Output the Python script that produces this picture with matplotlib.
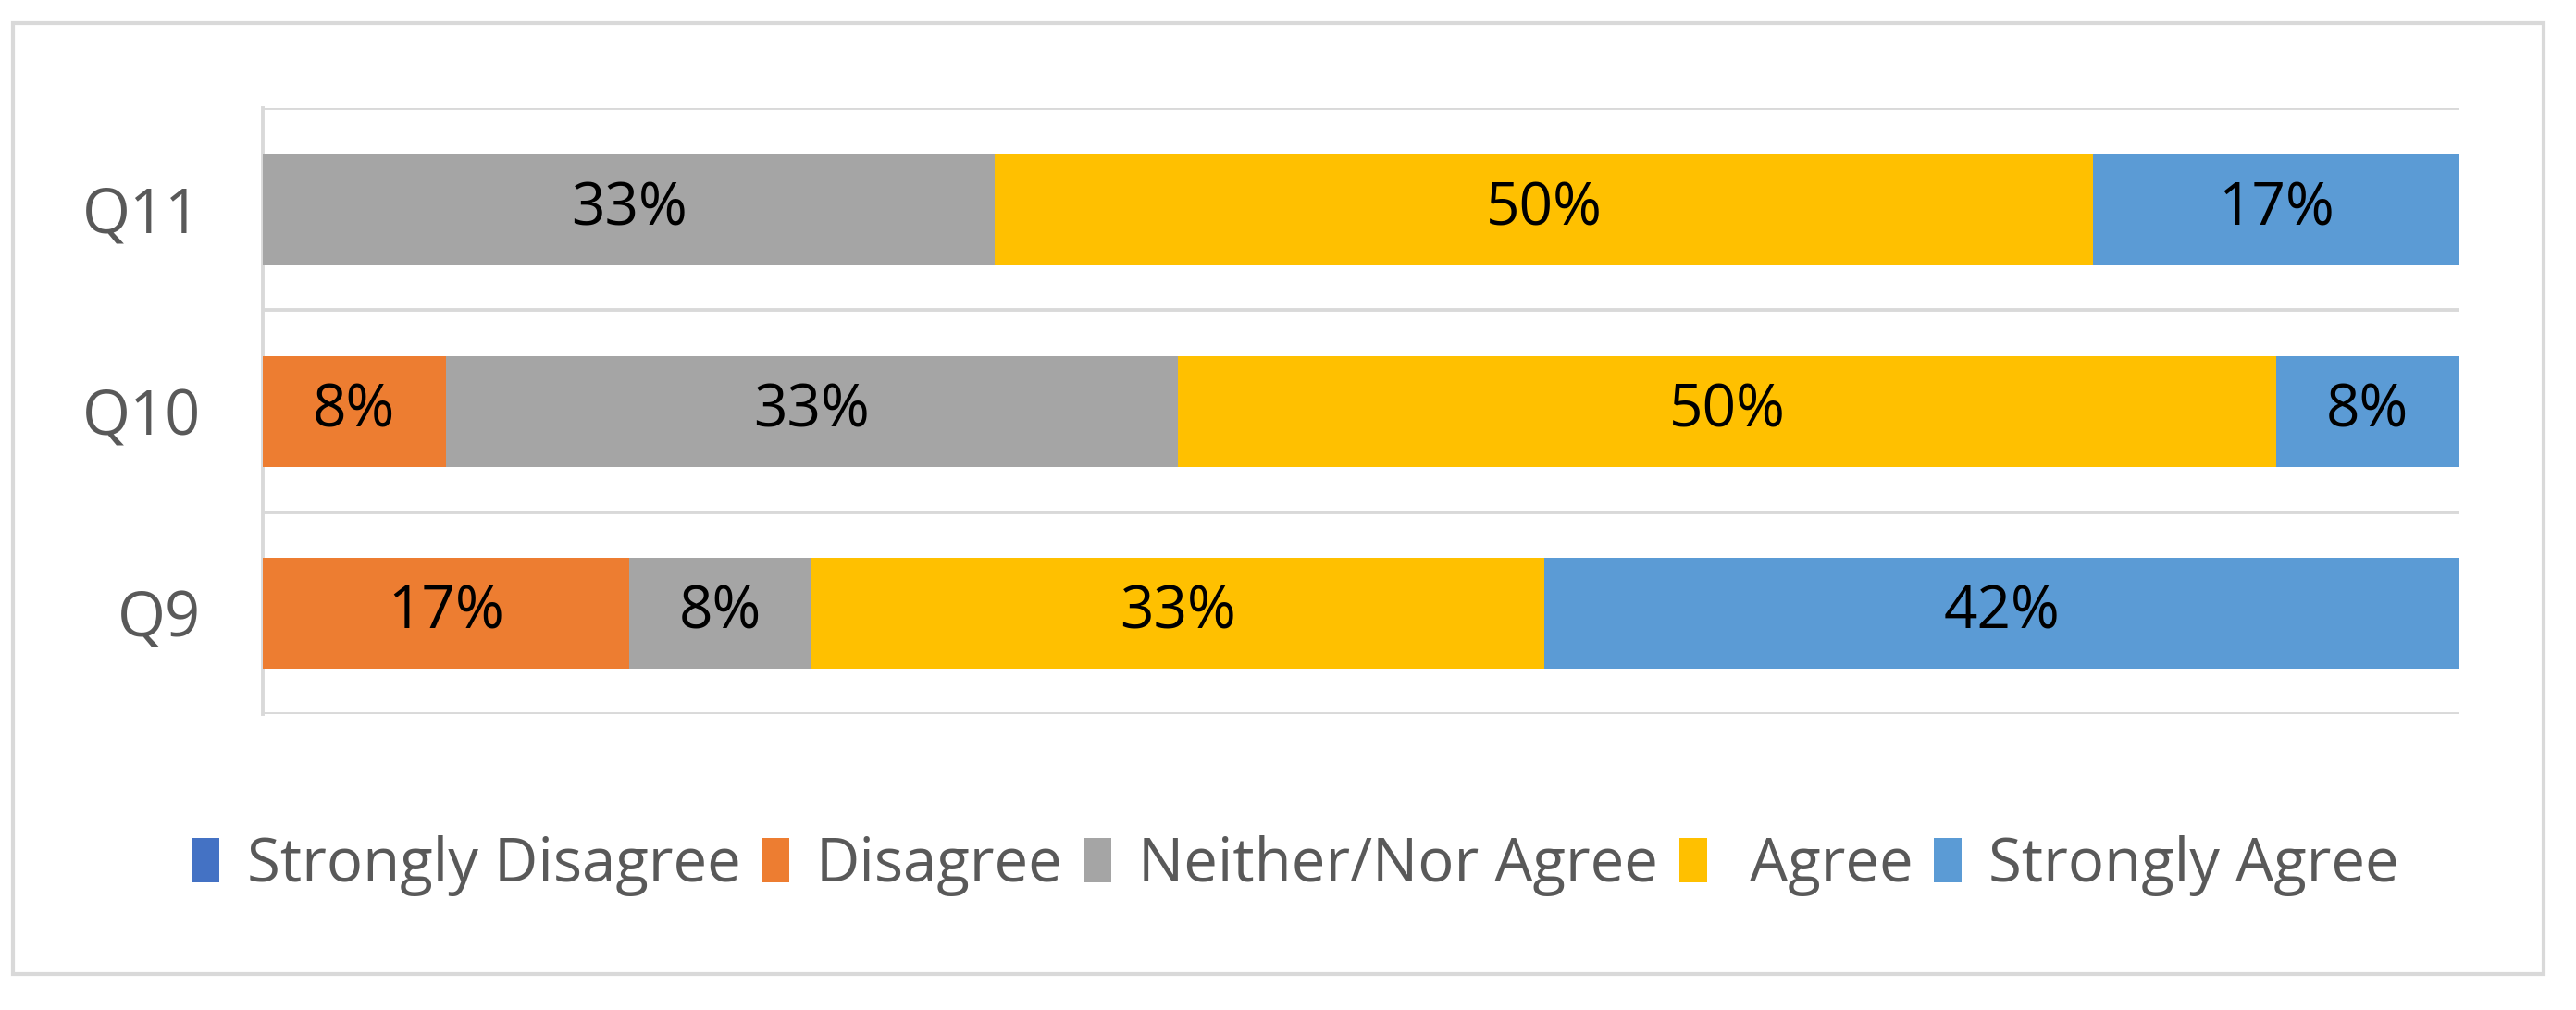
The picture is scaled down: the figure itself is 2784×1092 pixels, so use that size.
import numpy as np
import matplotlib.pyplot as plt
from matplotlib.patches import Rectangle

# Data (percent of respondents)
questions = ['Q9', 'Q10', 'Q11']
categories = ['Strongly Disagree', 'Disagree', 'Neither/Nor Agree', ' Agree', 'Strongly Agree']
strongly_disagree = [0, 0, 0]
disagree = [16.67, 8.33, 0]
neither = [8.33, 33.33, 33.33]
agree = [33.33, 50.0, 50.0]
strongly_agree = [41.67, 8.33, 16.67]

colors = ['#4472C4', '#ED7D31', '#A5A5A5', '#FFC000', '#5B9BD5']
grid_col = '#D9D9D9'
txt_col = '#595959'

plt.rcParams['font.family'] = ['Open Sans', 'DejaVu Sans']

fig = plt.figure(figsize=(27.84, 10.92), dpi=100)
ax = fig.add_axes([0.102, 0.293, 0.8527, 0.5998])

series = [strongly_disagree, disagree, neither, agree, strongly_agree]
y = np.arange(len(questions))
left = np.zeros(len(questions))
for vals, name, col in zip(series, categories, colors):
    vals = np.array(vals)
    bars = ax.barh(y, vals, left=left, height=0.55, color=col, label=name, zorder=3)
    for b, v in zip(bars, vals):
        if v > 0:
            ax.text(b.get_x() + b.get_width() / 2, b.get_y() + b.get_height() / 2,
                    f'{v:.0f}%', ha='center', va='center', fontsize=46,
                    color='black', zorder=4)
    left += vals

ax.set_xlim(0, 100)
ax.set_ylim(-0.5, len(questions) - 0.5)
ax.set_yticks(y)
ax.set_yticklabels(questions, fontsize=48, color=txt_col)
ax.set_xticks([])
ax.tick_params(axis='y', length=0, pad=48)

# category separators
for g in np.arange(-0.5, len(questions), 1.0):
    ax.axhline(g, color=grid_col, lw=2.8, zorder=1)

for s in ['top', 'right', 'bottom']:
    ax.spines[s].set_visible(False)
ax.spines['left'].set_color(grid_col)
ax.spines['left'].set_linewidth(2.8)

leg = fig.legend(loc='center', bbox_to_anchor=(0.503, 0.143), ncol=5, frameon=False,
                 fontsize=47, handlelength=0.45, handleheight=0.75,
                 handletextpad=0.45, columnspacing=0.35, labelcolor=txt_col)

# outer chart border
fig.patches.append(Rectangle((0.005, 0.0357), 0.9824, 0.9413, transform=fig.transFigure,
                             fill=False, edgecolor=grid_col, lw=3))

fig.savefig('out.png', dpi=100)
